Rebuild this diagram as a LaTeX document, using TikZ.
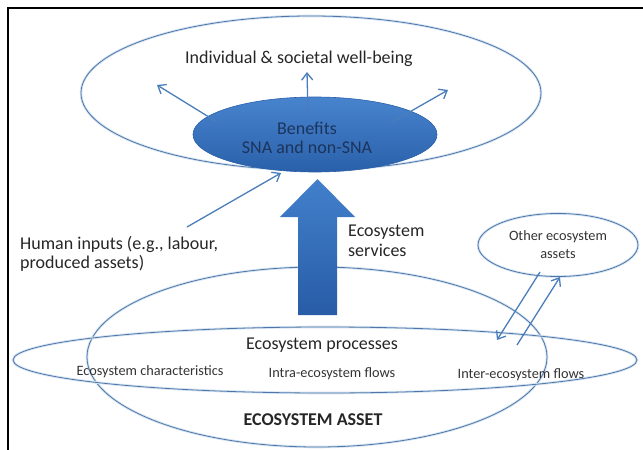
\documentclass[tikz,border=0pt]{standalone}
\usepackage{fontspec}
\setmainfont{Carlito}
\usetikzlibrary{shapes.geometric,arrows.meta}
\definecolor{outl}{RGB}{78,118,168}
\definecolor{glow}{RGB}{214,228,242}
\definecolor{arr}{RGB}{74,126,187}
\definecolor{bentop}{RGB}{72,132,206}
\definecolor{benbot}{RGB}{42,96,170}
\definecolor{bentext}{RGB}{28,52,92}
\definecolor{bigtop}{RGB}{66,128,204}
\definecolor{bigbot}{RGB}{40,92,166}
\begin{document}
\begin{tikzpicture}[x=1pt,y=-1pt,
  ring/.style={ellipse, draw=outl, line width=0.8pt, inner sep=0pt, outer sep=0pt,
    preaction={draw=glow, line width=2.6pt}},
  thinarrow/.style={draw=arr, line width=1.3pt, -{Straight Barb[length=7pt,width=11pt,line width=1.3pt]}},
  big/.style={font=\fontsize{18}{21}\selectfont, text=black!85},
  small/.style={font=\fontsize{14.3}{17}\selectfont, text=black!80},
  frameline/.style={draw=black, line width=1.8pt}]
\useasboundingbox (0,0) rectangle (643,450);
% frame
\coordinate (fA) at (8,450);
\coordinate (fB) at (8,8);
\coordinate (fC) at (643,8);
\draw[frameline] (fA) -- (fB) -- (fC);
% outline ellipses
\node[ring, minimum width=460pt, minimum height=154pt] (wellbeing) at (311,93) {};
\node[ring, minimum width=460pt, minimum height=180pt] (asset) at (317,357) {};
\node[ring, minimum width=624pt, minimum height=66pt] (processes) at (325,360) {};
\node[ring, minimum width=160pt, minimum height=63pt] (other) at (558,245) {};
% benefits
\node[ellipse, draw=benbot, line width=0.6pt, top color=bentop, bottom color=benbot,
  minimum width=244pt, minimum height=75pt, inner sep=0pt] (benefits) at (315,134.5) {};
% arrows from benefits
\coordinate (bL) at (217,122);
\coordinate (tL) at (157,85);
\coordinate (bM) at (308,112);
\coordinate (tM) at (307,72);
\coordinate (bR) at (392,122);
\coordinate (tR) at (448,90);
\draw[thinarrow] (bL) -- (tL);
\draw[thinarrow] (bM) -- (tM);
\draw[thinarrow] (bR) -- (tR);
% human inputs arrow
\coordinate (hS) at (187,227);
\coordinate (hT) at (281,173);
\draw[thinarrow] (hS) -- (hT);
% inter-ecosystem arrows
\coordinate (oA) at (540,272);
\coordinate (pA) at (497,340);
\coordinate (pB) at (517,345);
\coordinate (oB) at (560,277);
\draw[thinarrow] (oA) -- (pA);
\draw[thinarrow] (pB) -- (oB);
% big arrow
\path[top color=bigtop, bottom color=bigbot]
  (298,315) -- (298,217) -- (280,217) -- (317.5,179) -- (355,217) -- (337,217) -- (337,315) -- cycle;
\node[inner sep=0pt, minimum size=0pt] (bigtip) at (317.5,179) {};
% texts
\node[big, anchor=base] (wbtext) at (299,63) {Individual \& societal well-being};
\node[big, anchor=base, text=bentext] (bentxt1) at (307,134) {Benefits};
\node[big, anchor=base, text=bentext] (bentxt2) at (307,153) {SNA and non-SNA};
\node[big, anchor=base west, inner sep=0pt] (human1) at (20,249) {Human inputs (e.g., labour,};
\node[big, anchor=base west, inner sep=0pt] (human2) at (20,268) {produced assets)};
\node[big, anchor=base west, inner sep=0pt] (serv1) at (348,236) {Ecosystem};
\node[big, anchor=base west, inner sep=0pt] (serv2) at (348,256) {services};
\node[small, anchor=base] (oth1) at (558,240) {Other ecosystem};
\node[small, anchor=base] (oth2) at (558,258) {assets};
\node[big, anchor=base] (proc) at (322,349) {Ecosystem processes};
\node[small, anchor=base] (char) at (150,375) {Ecosystem characteristics};
\node[small, anchor=base] (intra) at (332,377) {Intra-ecosystem flows};
\node[small, anchor=base] (inter) at (521,378) {Inter-ecosystem flows};
\node[big, anchor=base, font=\fontsize{18}{21}\selectfont\bfseries] (assettxt) at (313,425) {ECOSYSTEM ASSET};
\end{tikzpicture}
\end{document}
